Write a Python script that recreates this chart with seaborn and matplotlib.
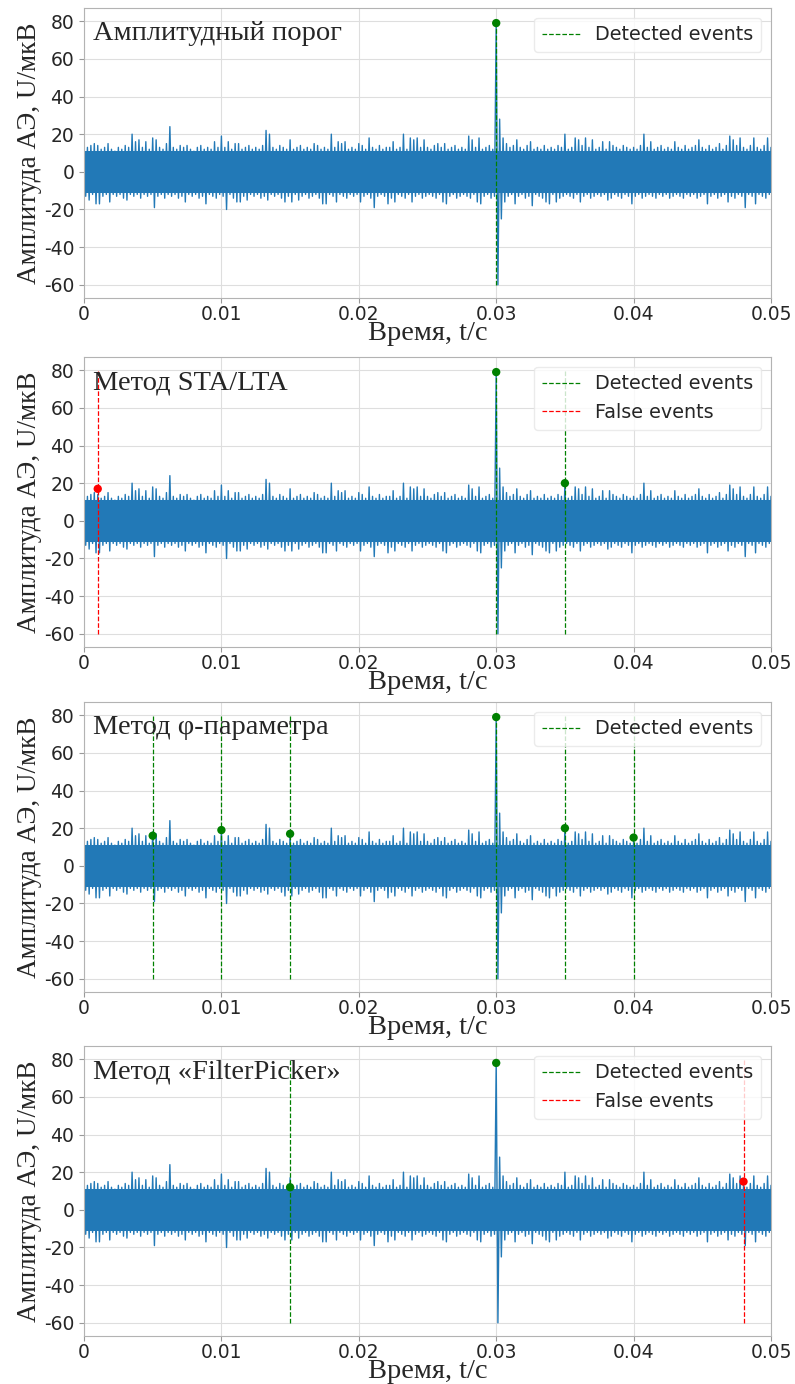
import numpy as np
import pandas as pd
import matplotlib
matplotlib.use("Agg")
import matplotlib.pyplot as plt
import seaborn as sns

# ---- signal: positive and negative swing of the AE record, one pair per 0.25 ms step ----
sig_hi = [
    12, 13, 14, 15, 14, 12, 13, 15, 12, 11, 13, 12, 14, 13, 20, 16, 17, 13, 16, 12,
    18, 17, 13, 12, 15, 24, 13, 12, 14, 13, 14, 12, 11, 13, 14, 12, 13, 12, 16, 13,
    19, 13, 16, 12, 15, 15, 12, 13, 14, 12, 13, 12, 14, 22, 20, 13, 12, 14, 13, 12,
    17, 12, 13, 14, 12, 13, 12, 15, 14, 12, 13, 12, 20, 13, 16, 15, 16, 12, 13, 12,
    15, 14, 12, 18, 13, 12, 14, 12, 13, 13, 16, 12, 13, 20, 12, 18, 17, 18, 13, 17,
    13, 12, 14, 15, 13, 15, 12, 13, 14, 12, 13, 12, 19, 17, 13, 18, 12, 13, 14, 12,
    79, 28, 18, 15, 13, 14, 17, 13, 12, 14, 16, 12, 13, 12, 14, 12, 13, 12, 14, 13,
    20, 12, 13, 18, 17, 14, 18, 13, 17, 12, 13, 16, 12, 16, 14, 13, 12, 14, 13, 12,
    13, 12, 14, 20, 13, 16, 12, 13, 14, 12, 13, 12, 16, 13, 12, 14, 12, 13, 14, 17,
    13, 12, 14, 12, 13, 15, 12, 14, 19, 17, 14, 18, 13, 12, 14, 18, 13, 12, 14, 18, 13,
]
sig_lo = [
    -13, -15, -12, -17, -17, -13, -12, -16, -12, -13, -12, -14, -15, -12, -13, -12, -14, -12, -13, -12,
    -19, -13, -12, -14, -12, -13, -12, -14, -13, -16, -12, -13, -12, -14, -13, -17, -12, -13, -14, -12,
    -13, -20, -12, -14, -16, -16, -13, -15, -12, -13, -12, -14, -13, -15, -12, -13, -12, -14, -16, -13,
    -16, -12, -15, -13, -12, -14, -13, -12, -14, -17, -17, -12, -13, -16, -12, -13, -14, -12, -13, -12,
    -16, -13, -12, -14, -19, -13, -12, -13, -17, -14, -16, -12, -13, -14, -12, -16, -13, -12, -14, -13,
    -12, -13, -14, -12, -16, -17, -13, -12, -14, -13, -12, -13, -14, -12, -16, -17, -13, -12, -14, -13,
    -60, -25, -16, -13, -12, -17, -13, -12, -14, -13, -18, -12, -13, -14, -16, -17, -12, -16, -14, -13,
    -12, -13, -14, -12, -16, -13, -12, -14, -13, -12, -13, -12, -15, -14, -12, -13, -14, -12, -13, -17,
    -13, -12, -14, -13, -12, -13, -14, -12, -13, -12, -14, -13, -12, -13, -14, -12, -13, -12, -14, -13,
    -12, -17, -13, -12, -14, -13, -12, -16, -13, -14, -12, -13, -19, -12, -13, -17, -12, -13, -14, -12, -13,
]
sig_step = 0.00025
# amplitude range that the dense noise fills solidly
noise_core = (-11, 11)

# ---- panels ----
titles = ["Амплитудный порог", "Метод STA/LTA", "Метод φ-параметра", "Метод «FilterPicker»"]

det_lines = [[0.030], [0.030, 0.035], [0.005, 0.010, 0.015, 0.030, 0.035, 0.040], [0.015]]
det_t = [[0.030], [0.030, 0.035], [0.005, 0.010, 0.015, 0.030, 0.035, 0.040], [0.015, 0.030]]
det_v = [[79], [79, 20], [16, 19, 17, 79, 20, 15], [12, 78]]
false_t = [[], [0.001], [], [0.048]]
false_v = [[], [17], [], [15]]

x_ticks = [0, 0.01, 0.02, 0.03, 0.04, 0.05]
x_tick_labels = ["0", "0.01", "0.02", "0.03", "0.04", "0.05"]
y_ticks = [-60, -40, -20, 0, 20, 40, 60, 80]
event_span = (-60, 80)

xlabel = "Время, t/c"
ylabel = "Амплитуда АЭ, U/мкВ"

# interleave positive / negative swings into one trace
hi = np.asarray(sig_hi, float)
lo = np.asarray(sig_lo, float)
t0 = np.arange(len(hi)) * sig_step
t = np.empty(2 * len(hi))
u = np.empty(2 * len(hi))
t[0::2], t[1::2] = t0, t0 + sig_step / 2
u[0::2], u[1::2] = hi, lo
signal = pd.DataFrame({"t": t, "u": u})

sns.set_style("whitegrid", {
    "axes.edgecolor": "0.7",
    "grid.color": "0.87",
    "xtick.bottom": True,
    "ytick.left": True,
    "xtick.color": "0.15",
    "ytick.color": "0.15",
})
plt.rcParams["font.family"] = ["DejaVu Sans"]
plt.rcParams["xtick.major.size"] = 3.5
plt.rcParams["ytick.major.size"] = 3.5
plt.rcParams["axes.unicode_minus"] = False
plt.rcParams["path.simplify"] = False

serif = "Liberation Serif"
blue = "#2279b7"
W, H = 795, 1384
fig = plt.figure(figsize=(W / 100, H / 100), dpi=100)

ax_left, ax_right, ax_h = 84, 771, 290
ax_tops = [8, 357, 702, 1046]

for i, top in enumerate(ax_tops):
    ax = fig.add_axes([ax_left / W, 1 - (top + ax_h) / H, (ax_right - ax_left) / W, ax_h / H])

    ax.fill_between([t[0], t[-1]], *noise_core, color=blue, linewidth=0, zorder=2)
    sns.lineplot(data=signal, x="t", y="u", ax=ax, color=blue, linewidth=1.0,
                 estimator=None, sort=False, zorder=2)

    handles = []
    if det_lines[i]:
        h = ax.vlines(det_lines[i], *event_span, colors="green", linestyles="--",
                      linewidth=0.9, zorder=3, label="Detected events")
        handles.append(h)
    if false_t[i]:
        h = ax.vlines(false_t[i], *event_span, colors="red", linestyles="--",
                      linewidth=0.9, zorder=3, label="False events")
        handles.append(h)

    sns.scatterplot(x=det_t[i], y=det_v[i], ax=ax, color="green", s=36,
                    edgecolor="none", zorder=4)
    if false_t[i]:
        sns.scatterplot(x=false_t[i], y=false_v[i], ax=ax, color="red", s=36,
                        edgecolor="none", zorder=4)

    ax.set_xlim(0, 0.05)
    ax.set_ylim(-67, 87)
    ax.set_xticks(x_ticks)
    ax.set_xticklabels(x_tick_labels)
    ax.set_yticks(y_ticks)
    ax.tick_params(labelsize=13.5, color="0.6")
    ax.tick_params(axis="x", pad=1.5)

    ax.set_xlabel(xlabel, fontsize=20.5, family=serif, labelpad=-2)
    ax.set_ylabel(ylabel, fontsize=19.5, family=serif, labelpad=1)

    ax.text(0.013, 0.955, titles[i], transform=ax.transAxes, ha="left", va="top",
            fontsize=20.5, family=serif, zorder=6)

    leg = ax.legend(handles=handles, loc="upper right", fontsize=13.8, frameon=True,
                    framealpha=0.8, edgecolor="0.9")
    leg.set_zorder(5)

fig.savefig("out.png", dpi=100)
